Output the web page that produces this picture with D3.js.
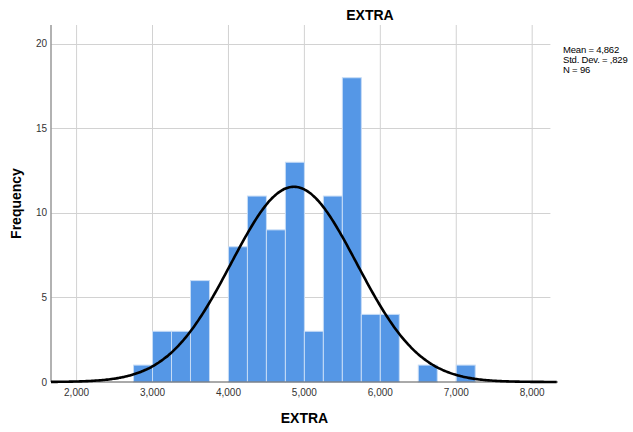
<!DOCTYPE html>
<html lang="en">
<head>
    <meta charset="UTF-8">
    <title>EXTRA histogram</title>
    <script src="https://d3js.org/d3.v7.min.js"></script>
    <style>
        body { margin: 0; background: #fff; }
        svg { font-family: "Liberation Sans", Arial, sans-serif; }
        .tick-label { font-size: 10px; fill: #333; }
        .axis-title { font-size: 14px; font-weight: bold; fill: #000; }
        .legend { font-size: 9.5px; fill: #000; letter-spacing: -0.2px; }
    </style>
</head>
<body>
    <script>
        // histogram bins (lower edge) and frequencies
        const binLower = [2.75, 3.00, 3.25, 3.50, 3.75, 4.00, 4.25, 4.50, 4.75,
                          5.00, 5.25, 5.50, 5.75, 6.00, 6.25, 6.50, 6.75, 7.00];
        const counts = [1, 3, 3, 6, 0, 8, 11, 9, 13, 3, 11, 18, 4, 4, 0, 1, 0, 1];
        const binWidth = 0.25;

        const xTicks = [2, 3, 4, 5, 6, 7, 8];
        const yTicks = [0, 5, 10, 15, 20];

        const stats = { mean: 4.862, sd: 0.829, n: 96 };

        const width = 633, height = 432;
        const margin = {top: 25, right: 75, bottom: 50, left: 51};

        const svg = d3.select('body')
                      .append('svg')
                      .attr('width', width)
                      .attr('height', height);

        const xScale = d3.scaleLinear()
                         .domain([1.663, 8.34])
                         .range([margin.left, width - margin.right]);

        const yScale = d3.scaleLinear()
                         .domain([0, 21.12])
                         .range([height - margin.bottom, margin.top]);

        const loc = d3.formatLocale({decimal: ',', thousands: '.', grouping: [3], currency: ['', '']});
        const fmt3 = loc.format('.3f');

        // grid
        svg.append('g')
            .selectAll('line')
            .data(xTicks)
            .enter().append('line')
            .attr('x1', d => xScale(d)).attr('x2', d => xScale(d))
            .attr('y1', yScale.range()[1]).attr('y2', yScale.range()[0])
            .attr('stroke', '#d2d2d2')
            .attr('stroke-width', 1);

        svg.append('g')
            .selectAll('line')
            .data(yTicks.filter(d => d > 0))
            .enter().append('line')
            .attr('x1', xScale.range()[0]).attr('x2', xScale(8.24))
            .attr('y1', d => Math.round(yScale(d)) + 0.5).attr('y2', d => Math.round(yScale(d)) + 0.5)
            .attr('stroke', '#d2d2d2')
            .attr('stroke-width', 1);

        // bars
        svg.append('g')
            .selectAll('rect')
            .data(binLower.map((b, i) => ({x0: b, x1: b + binWidth, count: counts[i]})).filter(d => d.count > 0))
            .enter().append('rect')
            .attr('x', d => xScale(d.x0))
            .attr('width', d => xScale(d.x1) - xScale(d.x0))
            .attr('y', d => yScale(d.count))
            .attr('height', d => yScale(0) - yScale(d.count))
            .attr('fill', '#5597e6')
            .attr('stroke', '#c6dcf6')
            .attr('stroke-width', 1);

        // axes lines
        svg.append('line')
            .attr('x1', xScale.range()[0]).attr('x2', xScale.range()[0])
            .attr('y1', yScale.range()[1]).attr('y2', yScale(0))
            .attr('stroke', '#999')
            .attr('stroke-width', 1.5);

        svg.append('line')
            .attr('x1', xScale.range()[0]).attr('x2', xScale.range()[1])
            .attr('y1', yScale(0)).attr('y2', yScale(0))
            .attr('stroke', '#555')
            .attr('stroke-width', 1);

        // normal curve from mean / sd
        const curvePts = d3.range(xScale.domain()[0], xScale.domain()[1] + 0.001, 0.02).map(v => {
            const z = (v - stats.mean) / stats.sd;
            const dens = Math.exp(-0.5 * z * z) / (stats.sd * Math.sqrt(2 * Math.PI));
            return [v, stats.n * binWidth * dens];
        });

        svg.append('path')
            .datum(curvePts)
            .attr('d', d3.line().x(d => xScale(d[0])).y(d => yScale(d[1])).curve(d3.curveBasis))
            .attr('fill', 'none')
            .attr('stroke', '#000')
            .attr('stroke-width', 2.6);

        // tick labels
        svg.append('g')
            .selectAll('text')
            .data(yTicks)
            .enter().append('text')
            .attr('class', 'tick-label')
            .attr('x', xScale.range()[0] - 4)
            .attr('y', d => yScale(d))
            .attr('dy', '0.35em')
            .attr('text-anchor', 'end')
            .text(d => d);

        svg.append('g')
            .selectAll('text')
            .data(xTicks)
            .enter().append('text')
            .attr('class', 'tick-label')
            .attr('x', d => xScale(d))
            .attr('y', yScale(0) + 14)
            .attr('text-anchor', 'middle')
            .text(d => fmt3(d));

        // titles
        svg.append('text')
            .attr('class', 'axis-title')
            .attr('x', 370)
            .attr('y', 20)
            .attr('text-anchor', 'middle')
            .text('EXTRA');

        svg.append('text')
            .attr('class', 'axis-title')
            .attr('x', (xScale.range()[0] + xScale.range()[1]) / 2)
            .attr('y', 423)
            .attr('text-anchor', 'middle')
            .text('EXTRA');

        svg.append('text')
            .attr('class', 'axis-title')
            .attr('transform', `translate(21,${(yScale.range()[0] + yScale.range()[1]) / 2}) rotate(-90)`)
            .attr('text-anchor', 'middle')
            .text('Frequency');

        // stats legend
        const legendLines = [
            `Mean = ${fmt3(stats.mean)}`,
            `Std. Dev. = ${fmt3(stats.sd).replace(/^0/, '')}`,
            `N = ${stats.n}`
        ];
        svg.append('g')
            .selectAll('text')
            .data(legendLines)
            .enter().append('text')
            .attr('class', 'legend')
            .attr('x', 563)
            .attr('y', (d, i) => 53 + i * 10)
            .text(d => d);
    </script>
</body>
</html>
